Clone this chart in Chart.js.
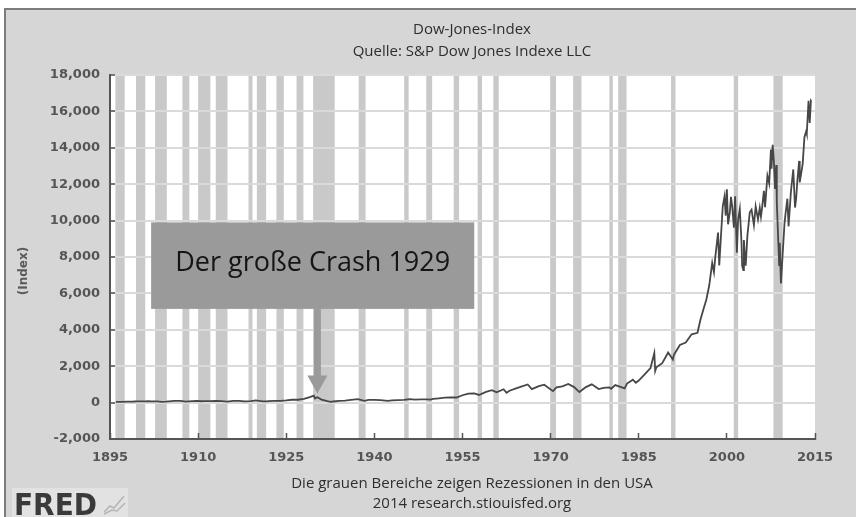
<!DOCTYPE html>
<html>
<head>
<meta charset="utf-8">
<script src="https://cdn.jsdelivr.net/npm/chart.js@4/dist/chart.umd.min.js"></script>
<style>
  html, body { margin: 0; padding: 0; background: #fff; }
</style>
</head>
<body>
<canvas id="dowChart" width="856" height="517"></canvas>
<script>
// Dow Jones (Jahr als Dezimalzahl)
const years = [
  1896.0, 1897.0, 1898.0, 1899.0, 1899.5, 1900.0, 1901.0, 1901.5, 1902.0, 1903.0,
  1903.8, 1904.5, 1905.0, 1906.0, 1907.0, 1907.9, 1909.0, 1909.8, 1910.5, 1911.0,
  1912.0, 1913.0, 1914.0, 1914.9, 1916.0, 1917.0, 1917.9, 1919.0, 1919.8, 1921.0,
  1921.6, 1922.0, 1923.0, 1924.0, 1925.0, 1926.0, 1927.0, 1928.0, 1929.0, 1929.7,
  1929.9, 1930.3, 1931.0, 1932.0, 1932.5, 1933.0, 1934.0, 1935.0, 1936.0, 1937.2,
  1938.0, 1938.3, 1939.0, 1940.0, 1941.0, 1942.3, 1943.0, 1944.0, 1945.0, 1946.0,
  1946.9, 1948.0, 1949.0, 1949.5, 1950.0, 1951.0, 1952.0, 1953.0, 1954.0, 1955.0,
  1956.0, 1957.0, 1957.8, 1959.0, 1960.0, 1960.8, 1962.0, 1962.5, 1963.0, 1964.0,
  1965.0, 1966.1, 1966.8, 1968.0, 1968.9, 1970.4, 1971.0, 1972.0, 1973.0, 1974.0,
  1974.9, 1976.0, 1977.0, 1978.2, 1979.0, 1980.0, 1980.3, 1981.0, 1982.6, 1983.0,
  1984.0, 1984.5, 1985.0, 1986.0, 1987.0, 1987.65, 1987.8, 1988.0, 1989.0, 1990.0,
  1990.8, 1991.0, 1992.0, 1993.0, 1994.0, 1995.0, 1995.5, 1996.0, 1996.5, 1997.0,
  1997.5, 1997.8, 1998.0, 1998.5, 1998.7, 1999.0, 1999.3, 1999.6, 1999.8, 2000.0,
  2000.2, 2000.5, 2000.7, 2000.9, 2001.2, 2001.4, 2001.7, 2001.9, 2002.2, 2002.5,
  2002.6, 2002.8, 2002.9, 2003.0, 2003.2, 2003.5, 2003.9, 2004.2, 2004.6, 2004.9,
  2005.3, 2005.6, 2005.8, 2006.0, 2006.3, 2006.5, 2006.9, 2007.2, 2007.5, 2007.6,
  2007.8, 2008.0, 2008.2, 2008.4, 2008.5, 2008.8, 2008.9, 2009.0, 2009.2, 2009.5,
  2009.8, 2010.0, 2010.3, 2010.5, 2010.9, 2011.3, 2011.6, 2011.8, 2012.0, 2012.3,
  2012.4, 2012.9, 2013.2, 2013.5, 2013.6, 2013.9, 2014.1, 2014.3, 2014.4
];
const dowValues = [
  40, 40, 49, 60, 72, 66, 70, 76, 64, 64,
  43, 50, 69, 96, 94, 53, 86, 100, 74, 82,
  82, 88, 79, 54, 99, 95, 66, 82, 119, 72,
  64, 81, 99, 95, 120, 157, 157, 202, 300, 381,
  230, 294, 165, 78, 41, 60, 100, 104, 144, 194,
  121, 99, 155, 150, 131, 93, 119, 136, 152, 193,
  163, 181, 177, 162, 200, 235, 269, 292, 281, 404,
  488, 500, 420, 584, 679, 566, 731, 536, 652, 763,
  874, 995, 744, 905, 985, 631, 839, 890, 1020, 851,
  578, 852, 1004, 742, 805, 839, 759, 964, 777, 1047,
  1259, 1087, 1212, 1547, 1896, 2722, 1739, 1939, 2169, 2753,
  2365, 2634, 3169, 3301, 3754, 3834, 4556, 5117, 5655, 6448,
  7672, 7161, 7908, 9338, 7539, 9181, 10789, 11326, 10273, 11723,
  9796, 10447, 11310, 10787, 9606, 11337, 8235, 10021, 10635, 8736,
  7532, 7286, 8931, 8341, 7524, 9200, 10453, 10600, 9750, 10783,
  10070, 10700, 10215, 10717, 11640, 10739, 12463, 12050, 13900, 12846,
  14164, 13264, 11740, 13058, 11000, 8451, 7552, 8776, 6547, 8200,
  9800, 10428, 11205, 9686, 11577, 12810, 10719, 11231, 12217, 13279,
  12101, 13104, 14578, 14910, 14776, 16576, 15372, 16580, 16530
];
// US-Rezessionen (Beginn, Ende)
const recessionStart = [1895.92, 1899.42, 1902.67, 1907.33, 1910.0, 1913.0, 1918.58, 1920.0, 1923.33, 1926.75, 1929.58, 1937.33,
  1945.08, 1948.83, 1953.5, 1957.58, 1960.25, 1969.92, 1973.83, 1980.0, 1981.5, 1990.5, 2001.17, 2007.92];
const recessionEnd = [1897.5, 1901.0, 1904.67, 1908.5, 1912.08, 1915.0, 1919.25, 1921.58, 1924.58, 1927.92, 1933.25, 1938.5,
  1945.83, 1949.83, 1954.42, 1958.33, 1961.17, 1970.92, 1975.25, 1980.58, 1982.92, 1991.25, 2001.92, 2009.5];
const xTickYears = [1895, 1910, 1925, 1940, 1955, 1970, 1985, 2000, 2015];
const yTickValues = [-2000, 0, 2000, 4000, 6000, 8000, 10000, 12000, 14000, 16000, 18000];

const titleLines = ['Dow-Jones-Index', 'Quelle: S&P Dow Jones Indexe LLC'];
const footLines = ['Die grauen Bereiche zeigen Rezessionen in den USA', '2014 research.stiouisfed.org'];
const noteText = 'Der große Crash 1929';

// Hintergrund, Rahmen, Rezessionsbalken
const backdrop = {
  id: 'backdrop',
  beforeDraw(chart) {
    const { ctx, chartArea: a, scales: { x } } = chart;
    ctx.save();
    ctx.fillStyle = '#ffffff';
    ctx.fillRect(0, 0, chart.width, chart.height);
    ctx.fillStyle = '#d6d6d6';
    ctx.fillRect(5, 9, chart.width - 5, chart.height - 9);
    ctx.fillStyle = '#7c7c7c';
    ctx.fillRect(4, 8, chart.width - 4, 2);
    ctx.fillRect(4, 8, 2, chart.height - 8);
    ctx.fillStyle = '#ffffff';
    ctx.fillRect(a.left, a.top, a.width, a.height);
    ctx.fillStyle = '#c9c9c9';
    recessionStart.forEach((s, i) => {
      const x1 = x.getPixelForValue(s);
      const x2 = x.getPixelForValue(recessionEnd[i]);
      ctx.fillRect(x1, a.top, x2 - x1, a.height);
    });
    ctx.restore();
  }
};

// Texte, Hinweiskasten mit Pfeil, FRED-Logo
const extras = {
  id: 'extras',
  afterDraw(chart) {
    const { ctx, scales: { x, y } } = chart;
    ctx.save();

    // Kasten
    const bl = x.getPixelForValue(1902), br = x.getPixelForValue(1957);
    const bt = y.getPixelForValue(9900), bb = y.getPixelForValue(5150);
    ctx.fillStyle = '#9a9a9a';
    ctx.fillRect(bl, bt, br - bl, bb - bt);
    ctx.fillStyle = '#151515';
    ctx.font = '27px "Open Sans", sans-serif';
    ctx.textAlign = 'center';
    ctx.textBaseline = 'middle';
    ctx.fillText(noteText, (bl + br) / 2, (bt + bb) / 2 - 2);

    // Pfeil
    const ax = x.getPixelForValue(1930.3);
    const tip = y.getPixelForValue(500);
    ctx.fillStyle = '#9a9a9a';
    ctx.fillRect(ax - 3.5, bb, 7, tip - 17 - bb);
    ctx.beginPath();
    ctx.moveTo(ax - 10, tip - 18);
    ctx.lineTo(ax + 10, tip - 18);
    ctx.lineTo(ax, tip);
    ctx.closePath();
    ctx.fill();

    // Titel und Fußzeile
    ctx.fillStyle = '#2e2e2e';
    ctx.font = '15px "Open Sans", sans-serif';
    ctx.fillText(titleLines[0], 472, 30);
    ctx.fillText(titleLines[1], 472, 52);
    ctx.fillText(footLines[0], 472, 484);
    ctx.fillText(footLines[1], 472, 504);

    // Achsentitel
    ctx.save();
    ctx.translate(24, 271);
    ctx.rotate(-Math.PI / 2);
    ctx.fillStyle = '#5a5a5a';
    ctx.font = 'bold 12px "DejaVu Sans", sans-serif';
    ctx.fillText('(Index)', 0, 0);
    ctx.restore();

    // FRED-Logo
    ctx.fillStyle = '#e2e2e2';
    ctx.fillRect(12, 488, 116, 29);
    ctx.fillStyle = '#3a3a3a';
    ctx.textAlign = 'left';
    ctx.textBaseline = 'alphabetic';
    ctx.font = 'bold 31px "DejaVu Sans", sans-serif';
    ctx.fillText('FRED', 14, 515, 83);
    ctx.strokeStyle = '#b5b5b5';
    ctx.lineWidth = 1.5;
    ctx.beginPath();
    ctx.moveTo(104, 512); ctx.lineTo(110, 506); ctx.lineTo(114, 508); ctx.lineTo(124, 496);
    ctx.moveTo(104, 514); ctx.lineTo(112, 510); ctx.lineTo(117, 511); ctx.lineTo(125, 503);
    ctx.stroke();
    ctx.restore();
  }
};

new Chart(document.getElementById('dowChart'), {
  type: 'line',
  data: {
    datasets: [{
      label: 'Dow-Jones-Index',
      data: years.map((yr, i) => ({ x: yr, y: dowValues[i] })),
      borderColor: '#474747',
      borderWidth: 1.8,
      pointRadius: 0,
      tension: 0
    }]
  },
  options: {
    responsive: false,
    animation: false,
    devicePixelRatio: 1,
    layout: { padding: { top: 75, right: 41, left: 0, bottom: 0 } },
    plugins: {
      legend: { display: false },
      tooltip: { enabled: false },
      title: { display: false }
    },
    scales: {
      x: {
        type: 'linear',
        min: 1895,
        max: 2015,
        afterFit: s => { s.height = 78; },
        afterBuildTicks: s => { s.ticks = xTickYears.map(v => ({ value: v })); },
        ticks: {
          padding: 17,
          color: '#555555',
          font: { family: 'DejaVu Sans', size: 13, weight: 'bold' },
          maxRotation: 0,
          callback: v => String(v)
        },
        grid: { drawOnChartArea: false, tickLength: -6, tickColor: '#555555', tickWidth: 1.5 },
        border: { color: '#555555', width: 2 }
      },
      y: {
        min: -2000,
        max: 18000,
        afterFit: s => { s.width = 110; },
        afterBuildTicks: s => { s.ticks = yTickValues.map(v => ({ value: v })); },
        ticks: {
          padding: 15,
          color: '#555555',
          font: { family: 'DejaVu Sans', size: 13, weight: 'bold' },
          callback: v => v.toLocaleString('en-US')
        },
        grid: { color: '#dadada', lineWidth: 2, tickLength: -5, tickColor: '#555555', tickWidth: 1.5 },
        border: { color: '#555555', width: 2 }
      }
    }
  },
  plugins: [backdrop, extras]
});
</script>
</body>
</html>
